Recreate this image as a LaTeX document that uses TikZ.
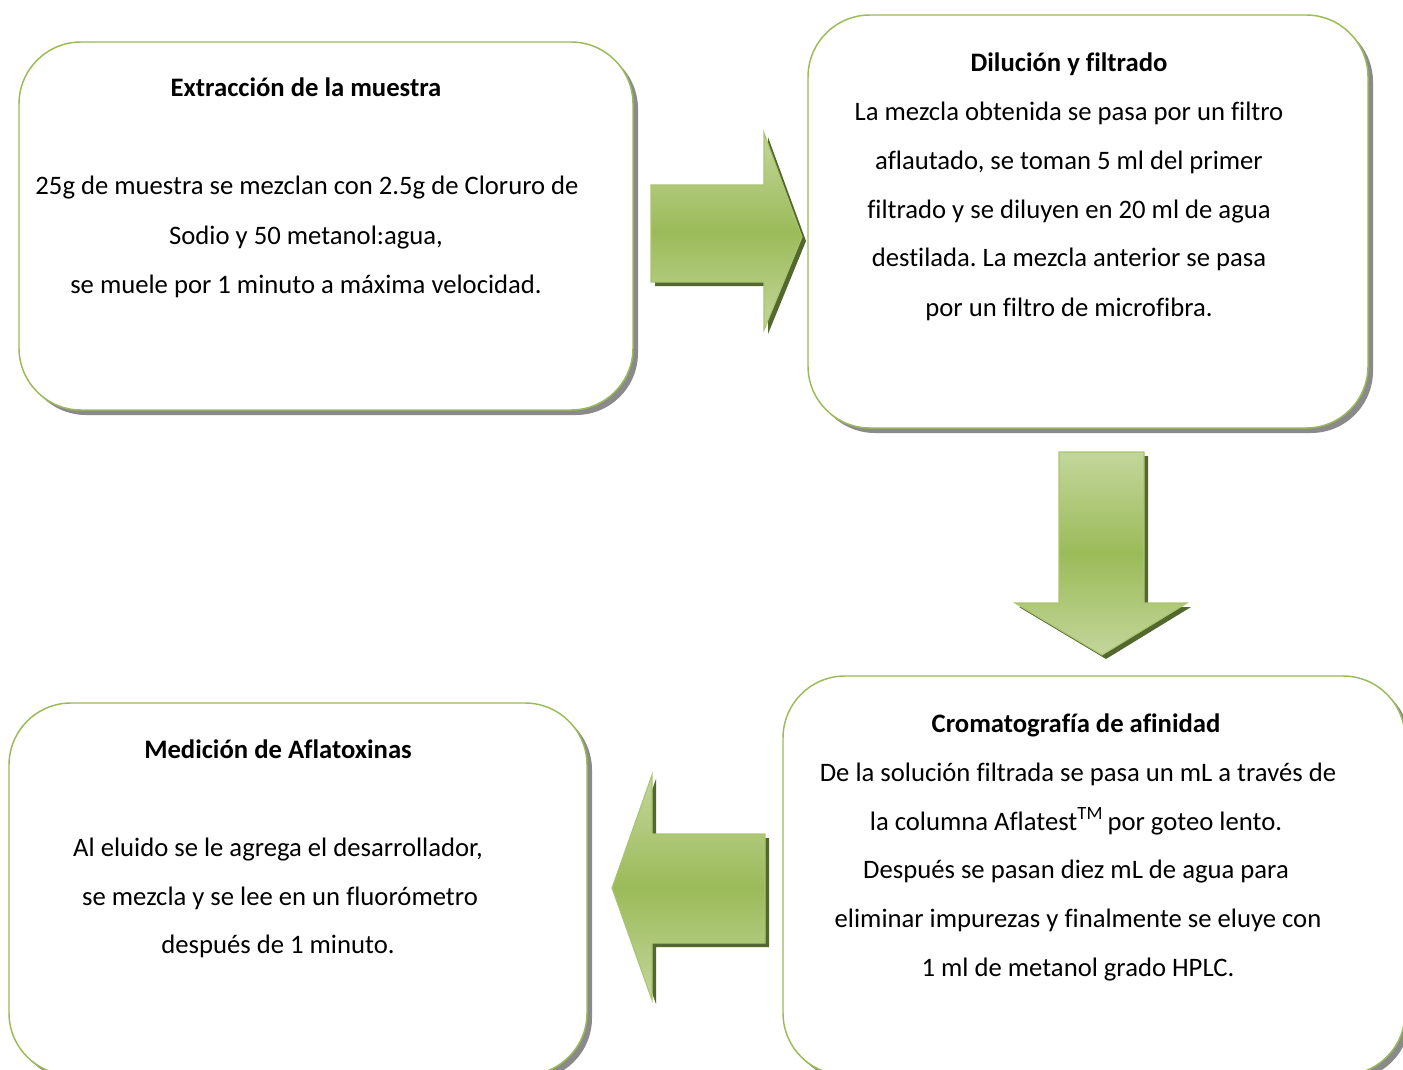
\documentclass[tikz,border=0pt]{standalone}
\usepackage{fontspec}
\setmainfont{Carlito}[Ligatures=NoCommon]
\usetikzlibrary{shadows}
\frenchspacing

\definecolor{boxgreen}{HTML}{9BBB59}
\definecolor{lightgreen}{HTML}{C3D69B}
\definecolor{midgreen}{HTML}{9BBB59}
\definecolor{edgegreen}{HTML}{A9C56F}
\definecolor{darkolive}{HTML}{53682E}
\definecolor{shadowgray}{HTML}{8A8A8A}

\tikzset{
  stepbox/.style={draw=boxgreen, line width=1.1pt, fill=white,
    rounded corners=46.5pt, inner sep=0pt,
    drop shadow={shadow xshift=3.75pt, shadow yshift=-3.75pt,
      fill=shadowgray, opacity=1}},
  txt/.style={anchor=base, inner sep=0pt, font=\fontsize{20}{24}\selectfont},
  ttl/.style={anchor=base, inner sep=0pt, font=\fontsize{20}{24}\selectfont\bfseries},
  blockarrow/.style={draw=edgegreen, line width=0.8pt,
    top color=lightgreen, bottom color=lightgreen, middle color=midgreen},
  arrowshadow/.style={fill=darkolive, xshift=3pt, yshift=-3pt},
}

\begin{document}
\begin{tikzpicture}[x=0.75pt,y=-0.75pt]
  \useasboundingbox (0,0) rectangle (1403,1070);
  \fill[white] (0,0) rectangle (1403,1070);

  % process boxes
  \node[stepbox, minimum width=460.5pt, minimum height=276pt]    (b1) at (326,226)   {};
  \node[stepbox, minimum width=420pt,   minimum height=309.75pt] (b2) at (1088,221.5) {};
  \node[stepbox, minimum width=466.5pt, minimum height=299.25pt] (b3) at (1094,875.5) {};
  \node[stepbox, minimum width=433.5pt, minimum height=279pt]    (b4) at (298,889)   {};

  % block arrows: right, down, left
  \fill[arrowshadow] (651,185) -- (764,185) -- (764,133) -- (802,237) -- (764,330) -- (764,282) -- (651,282) -- cycle;
  \path[blockarrow]  (651,185) -- (764,185) -- (764,133) -- (802,237) -- (764,330) -- (764,282) -- (651,282) -- cycle;

  \fill[arrowshadow] (1059,452) -- (1144,452) -- (1144,603) -- (1187,603) -- (1102,655) -- (1015,603) -- (1059,603) -- cycle;
  \path[blockarrow]  (1059,452) -- (1144,452) -- (1144,603) -- (1187,603) -- (1102,655) -- (1015,603) -- (1059,603) -- cycle;

  \fill[arrowshadow] (765,834) -- (765,943) -- (652,943) -- (652,1000) -- (612,888) -- (652,775) -- (652,834) -- cycle;
  \path[blockarrow]  (765,834) -- (765,943) -- (652,943) -- (652,1000) -- (612,888) -- (652,775) -- (652,834) -- cycle;

  % box 1 text
  \node[ttl] (t1)  at (306,97)  {Extracción de la muestra};
  \node[txt] (t1a) at (307,195) {25g de muestra se mezclan con 2.5g de Cloruro de};
  \node[txt] (t1b) at (306,244) {Sodio y 50 metanol:agua,};
  \node[txt] (t1c) at (306,293) {se muele por 1 minuto a máxima velocidad.};

  % box 2 text
  \node[ttl] (t2)  at (1069,72)  {Dilución y filtrado};
  \node[txt] (t2a) at (1069,121) {La mezcla obtenida se pasa por un filtro};
  \node[txt] (t2b) at (1069,170) {aflautado, se toman 5 ml del primer};
  \node[txt] (t2c) at (1069,219) {filtrado y se diluyen en 20 ml de agua};
  \node[txt] (t2d) at (1069,267) {destilada. La mezcla anterior se pasa};
  \node[txt] (t2e) at (1069,316) {por un filtro de microfibra.};

  % box 3 text
  \node[ttl] (t3)  at (1076,732) {Cromatografía de afinidad};
  \node[txt] (t3a) at (1078,781) {De la solución filtrada se pasa un mL a través de};
  \node[txt] (t3b) at (1076,830) {la columna Aflatest\textsuperscript{TM}\,por goteo lento.};
  \node[txt] (t3c) at (1076,878) {Después se pasan diez mL de agua para};
  \node[txt] (t3d) at (1078,927) {eliminar impurezas y finalmente se eluye con};
  \node[txt] (t3e) at (1078,976) {1 ml de metanol grado HPLC.};

  % box 4 text
  \node[ttl] (t4)  at (278,758) {Medición de Aflatoxinas};
  \node[txt] (t4a) at (278,856) {Al eluido se le agrega el desarrollador,};
  \node[txt] (t4b) at (280,905) {se mezcla y se lee en un fluorómetro};
  \node[txt] (t4c) at (278,953) {después de 1 minuto.};
\end{tikzpicture}
\end{document}
